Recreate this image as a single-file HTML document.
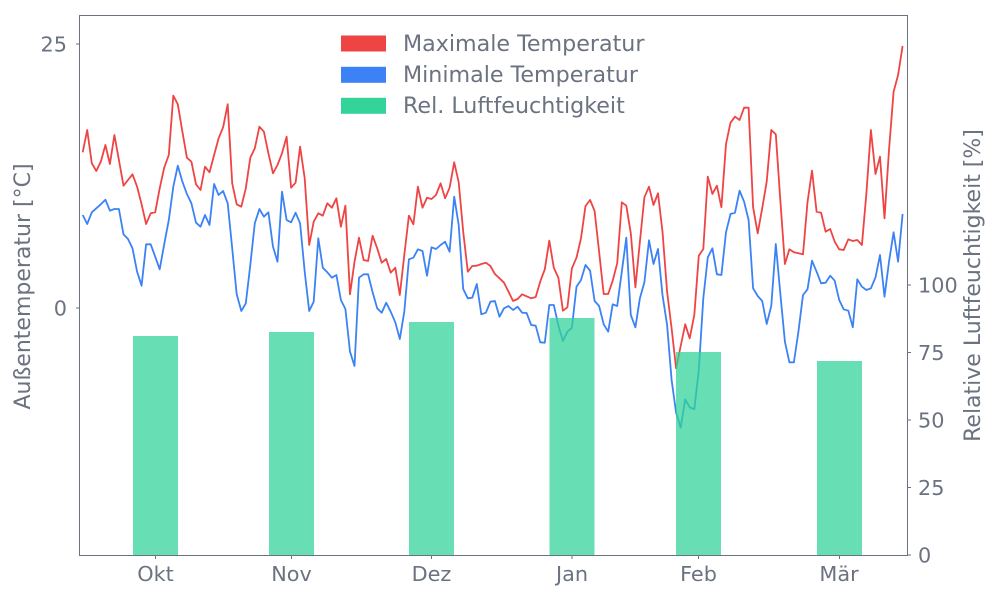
<!DOCTYPE html>
<html>
<head>
<meta charset="utf-8">
<style>
html,body{margin:0;padding:0;background:#fff;}
svg{display:block;}
text{font-family:"DejaVu Sans","Liberation Sans",sans-serif;fill:#6b7280;}
</style>
</head>
<body>
<svg width="1000" height="600" viewBox="0 0 1000 600" xmlns="http://www.w3.org/2000/svg">
<rect x="0" y="0" width="1000" height="600" fill="#fff"/>

<!-- lines -->
<polyline fill="none" stroke="#ef4444" stroke-width="1.8" stroke-linejoin="round" points="82.7,152.3 87.2,130 91.8,163.3 96.3,171 100.8,161.7 105.4,145 109.9,164 114.4,135 118.9,160 123.5,185.7 128,180 132.5,174.3 137.1,186.7 141.6,204.3 146.1,224 150.7,213.3 155.2,212.3 159.7,188.3 164.2,167.7 168.8,155 173.3,95.7 177.8,104.3 182.4,131.7 186.9,157.7 191.4,161.7 196,184.3 200.5,190 205,166.7 209.5,172.3 214.1,155 218.6,138.3 223.1,127.3 227.7,104.3 232.2,183.3 236.7,204.3 241.3,206.7 245.8,188.3 250.3,157.7 254.8,148.3 259.4,126.7 263.9,131.7 268.4,153.3 273,173.3 277.5,165 282,153.3 286.6,136.7 291.1,187.7 295.6,182.7 300.1,146.7 304.7,178.3 309.2,245 313.7,221.7 318.3,213.3 322.8,215.7 327.3,203.3 331.9,207.7 336.4,198.3 340.9,226.7 345.4,205.7 350,294.3 354.5,261.7 359,237.7 363.6,260 368.1,261 372.6,235.7 377.2,248.3 381.7,262.7 386.2,259 390.7,272.7 395.3,267.7 399.8,295 404.3,255 408.9,215.7 413.4,224.3 417.9,186.7 422.5,207.7 427,197.7 431.5,199 436,195 440.6,183.3 445.1,198.3 449.6,187.7 454.2,162.3 458.7,182.3 463.2,231.7 467.8,271.7 472.3,266 476.8,265.7 481.3,264 485.9,262.7 490.4,266 494.9,274 499.5,278.3 504,282.7 508.5,291.7 513.1,301 517.6,299 522.1,294.3 526.6,296.3 531.2,298.3 535.7,297 540.2,281.7 544.8,269.3 549.3,240.7 553.8,267.7 558.4,277.7 562.9,310.7 567.4,307.3 571.9,268.3 576.5,257.7 581,238.3 585.5,206 590.1,200 594.6,211 599.1,251.7 603.7,294 608.2,294 612.7,280.7 617.2,263.3 621.8,202.3 626.3,205.7 630.8,233.3 635.4,287.3 639.9,241.7 644.4,197.3 649,186.7 653.5,205 658,193.3 662.5,231.7 667.1,291.7 671.6,328.3 676.1,368.3 680.7,346 685.2,324.3 689.7,338.3 694.3,315 698.8,255.7 703.3,249 707.8,176.7 712.4,194 716.9,185.7 721.4,207.3 726,144 730.5,122.7 735,116.7 739.6,120 744.1,107.7 748.6,107.7 753.1,207.3 757.7,233.3 762.2,208.3 766.7,181.7 771.3,130 775.8,134.3 780.3,200 784.9,264 789.4,249.3 793.9,252.3 798.4,253.3 803,254.3 807.5,202.3 812,170.7 816.6,211.7 821.1,212.7 825.6,231.7 830.2,229 834.7,241.7 839.2,249.3 843.7,250 848.3,239.3 852.8,241 857.3,240 861.9,245 866.4,193.3 870.9,130 875.5,174 880,156.7 884.5,218.3 889,150 893.6,91.7 898.1,75 902.6,46"/>

<polyline fill="none" stroke="#3b82f6" stroke-width="1.8" stroke-linejoin="round" points="82.7,215 87.2,224 91.8,212.3 96.3,208.3 100.8,204.3 105.4,199.7 109.9,210.7 114.4,209 118.9,209 123.5,234.3 128,239 132.5,248.3 137.1,271.7 141.6,285.7 146.1,244.3 150.7,244.3 155.2,256.7 159.7,269.3 164.2,244.3 168.8,220 173.3,186.7 177.8,165.7 182.4,181.7 186.9,194 191.4,203.3 196,222.7 200.5,226.7 205,215 209.5,225 214.1,184 218.6,195 223.1,191 227.7,203.3 232.2,248.3 236.7,294.3 241.3,311 245.8,303.3 250.3,265 254.8,223.3 259.4,209 263.9,216.7 268.4,212.3 273,246.7 277.5,261.7 282,191.7 286.6,220 291.1,222.3 295.6,212.7 300.1,223.3 304.7,271.7 309.2,311 313.7,301.7 318.3,238.3 322.8,267.7 327.3,272.3 331.9,277.7 336.4,275 340.9,300 345.4,309 350,351.7 354.5,366 359,277.7 363.6,274.3 368.1,274.3 372.6,292.3 377.2,308.3 381.7,312.7 386.2,302.7 390.7,311.7 395.3,322.3 399.8,339 404.3,311.7 408.9,259.3 413.4,257.7 417.9,249.3 422.5,251 427,275.7 431.5,247.3 436,249 440.6,245 445.1,241.7 449.6,251.7 454.2,196.7 458.7,225 463.2,289 467.8,298.3 472.3,297.7 476.8,284 481.3,314.3 485.9,312.7 490.4,301.7 494.9,301 499.5,316.7 504,308.3 508.5,306 513.1,310 517.6,306.7 522.1,312.7 526.6,313 531.2,325 535.7,325.7 540.2,342.3 544.8,342.7 549.3,305 553.8,305 558.4,325.7 562.9,341 567.4,331.7 571.9,327.7 576.5,286.7 581,280 585.5,265 590.1,270.7 594.6,301 599.1,306 603.7,324.3 608.2,331.7 612.7,304.3 617.2,306 621.8,271.7 626.3,237.7 630.8,315 635.4,327.3 639.9,298.3 644.4,282.3 649,240.3 653.5,264 658,249 662.5,295 667.1,325 671.6,380 676.1,412.7 680.7,427.7 685.2,399.3 689.7,407.3 694.3,409.3 698.8,370 703.3,298.3 707.8,257.3 712.4,248.3 716.9,274.3 721.4,275 726,232.3 730.5,214 735,212.7 739.6,190.7 744.1,201.7 748.6,220 753.1,288.3 757.7,296 762.2,301 766.7,324 771.3,305.7 775.8,244 780.3,293.3 784.9,341.7 789.4,362.3 793.9,362.3 798.4,331.7 803,295 807.5,289.3 812,260.7 816.6,271.7 821.1,283.3 825.6,282.7 830.2,275.7 834.7,280.7 839.2,300 843.7,309.3 848.3,310.7 852.8,327.3 857.3,279.3 861.9,286.7 866.4,290 870.9,288.3 875.5,277.3 880,255 884.5,296.7 889,261.7 893.6,232.3 898.1,261.7 902.6,214"/>

<!-- bars (drawn on top, alpha) -->
<g fill="#34d399" fill-opacity="0.75">
<rect x="133" y="336" width="45" height="219.5"/>
<rect x="269" y="332" width="45" height="223.5"/>
<rect x="409" y="322" width="45" height="233.5"/>
<rect x="549.5" y="318" width="45" height="237.5"/>
<rect x="676" y="352" width="45" height="203.5"/>
<rect x="817" y="361" width="45" height="194.5"/>
</g>

<!-- frame -->
<rect x="79.5" y="15.5" width="828" height="540" fill="none" stroke="#6b7280" stroke-width="1"/>

<!-- ticks -->
<g stroke="#6b7280" stroke-width="1">
<line x1="76" y1="44" x2="79.5" y2="44"/>
<line x1="76" y1="308" x2="79.5" y2="308"/>
<line x1="907.5" y1="285" x2="911" y2="285"/>
<line x1="907.5" y1="352.5" x2="911" y2="352.5"/>
<line x1="907.5" y1="420" x2="911" y2="420"/>
<line x1="907.5" y1="487.5" x2="911" y2="487.5"/>
<line x1="907.5" y1="555" x2="911" y2="555"/>
<line x1="155.5" y1="555.5" x2="155.5" y2="559"/>
<line x1="291.5" y1="555.5" x2="291.5" y2="559"/>
<line x1="431.5" y1="555.5" x2="431.5" y2="559"/>
<line x1="572" y1="555.5" x2="572" y2="559"/>
<line x1="698.5" y1="555.5" x2="698.5" y2="559"/>
<line x1="839.5" y1="555.5" x2="839.5" y2="559"/>
</g>

<!-- tick labels -->
<g font-size="20.8">
<text x="67" y="51.6" text-anchor="end">25</text>
<text x="67" y="315.6" text-anchor="end">0</text>
<text x="918" y="292.6">100</text>
<text x="918" y="360.1">75</text>
<text x="918" y="427.6">50</text>
<text x="918" y="495.1">25</text>
<text x="918" y="562.6">0</text>
<text x="155.5" y="581" text-anchor="middle">Okt</text>
<text x="291.5" y="581" text-anchor="middle">Nov</text>
<text x="431.5" y="581" text-anchor="middle">Dez</text>
<text x="572" y="581" text-anchor="middle">Jan</text>
<text x="698.5" y="581" text-anchor="middle">Feb</text>
<text x="839" y="581" text-anchor="middle">Mär</text>
</g>

<!-- axis labels -->
<text font-size="22" text-anchor="middle" transform="translate(30,286.5) rotate(-90)">Außentemperatur [°C]</text>
<text font-size="22" text-anchor="middle" transform="translate(980,285.5) rotate(-90)">Relative Luftfeuchtigkeit [%]</text>

<!-- legend -->
<rect x="341" y="35.5" width="45" height="16" fill="#ef4444"/>
<rect x="341" y="66.8" width="45" height="16" fill="#3b82f6"/>
<rect x="341" y="97.8" width="45" height="16" fill="#34d399"/>
<g font-size="22.2">
<text x="403" y="50.8">Maximale Temperatur</text>
<text x="403" y="81.8">Minimale Temperatur</text>
<text x="403" y="112.8">Rel. Luftfeuchtigkeit</text>
</g>
</svg>
</body>
</html>
